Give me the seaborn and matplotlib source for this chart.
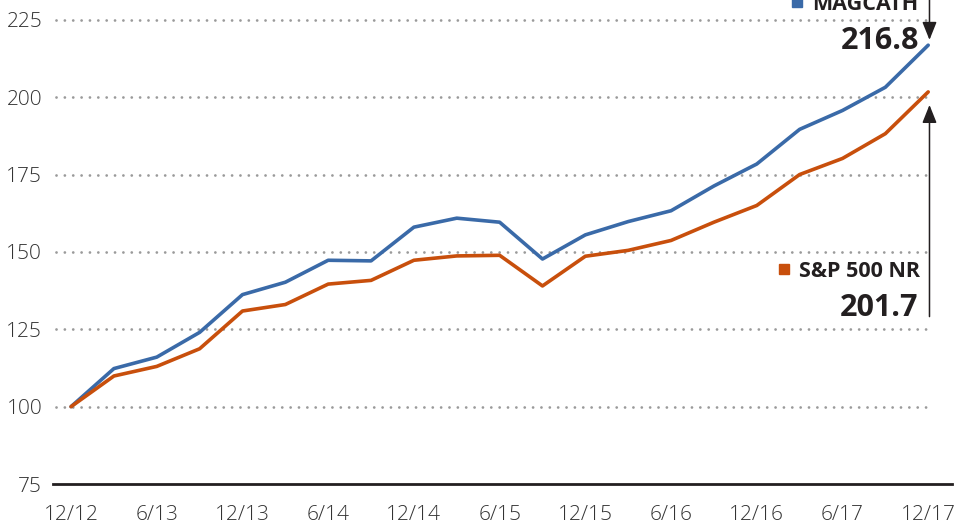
import matplotlib
matplotlib.use("Agg")
import matplotlib.pyplot as plt
import pandas as pd
import seaborn as sns

# quarterly index values, 12/12 = 100
quarters = list(range(21))
tick_pos = list(range(0, 21, 2))
tick_labels = ["12/12", "6/13", "12/13", "6/14", "12/14", "6/15",
               "12/15", "6/16", "12/16", "6/17", "12/17"]
magcath = [100, 112.3, 116.0, 124.0, 136.2, 140.2, 147.3, 147.1, 158.0, 160.9, 159.6,
           147.7, 155.5, 159.8, 163.3, 171.3, 178.4, 189.6, 195.7, 203.2, 216.8]
sp500 = [100, 109.9, 113.0, 118.7, 130.9, 133.0, 139.6, 140.8, 147.3, 148.7, 148.9,
         139.0, 148.6, 150.5, 153.7, 159.6, 165.0, 175.0, 180.2, 188.2, 201.7]
y_ticks = [75, 100, 125, 150, 175, 200, 225]

blue = "#3a6aa8"
orange = "#c84f0c"
ink = "#231f20"

df = pd.DataFrame({"q": quarters * 2,
                   "value": magcath + sp500,
                   "series": ["MAGCATH"] * 21 + ["S&P 500 NR"] * 21})

sns.set_theme(style="white")
plt.rcParams["font.family"] = ["Open Sans", "DejaVu Sans"]

fig = plt.figure(figsize=(9.58, 5.29), dpi=100)
ax = fig.add_axes([0.0557, 45 / 529, 0.9378, 1 - 45 / 529])

xmin, xmax = -0.413, 20.55
ax.hlines(y_ticks[1:], xmin + 0.05, 20, colors="#9a9a9a", linewidth=2.0,
          linestyles=[(0, (0.01, 3.0))], capstyle="round", zorder=1)

sns.lineplot(data=df, x="q", y="value", hue="series",
             palette={"MAGCATH": blue, "S&P 500 NR": orange},
             linewidth=2.6, legend=False, ax=ax, zorder=3)

ax.set_xlim(xmin, xmax)
ax.set_ylim(75, 231.4)
ax.set_xticks(tick_pos)
ax.set_xticklabels(tick_labels)
ax.set_yticks(y_ticks)
ax.set_xlabel("")
ax.set_ylabel("")
ax.tick_params(axis="both", length=0, labelsize=15, labelcolor="#333333")
ax.tick_params(axis="y", pad=8)
ax.tick_params(axis="x", pad=15)
for lab in ax.get_xticklabels() + ax.get_yticklabels():
    lab.set_fontweight("light")
for s in ["left", "top", "right"]:
    ax.spines[s].set_visible(False)
ax.spines["bottom"].set_color(ink)
ax.spines["bottom"].set_linewidth(2)

# arrows to the end values
arrow = dict(arrowstyle="-|>,head_length=0.55,head_width=0.22", color=ink,
             lw=1.1, shrinkA=0, shrinkB=0, mutation_scale=20)
ax.annotate("", xy=(20.03, 218.5), xytext=(20.03, 233), arrowprops=arrow,
            annotation_clip=False)
ax.annotate("", xy=(20.03, 197.5), xytext=(20.03, 129.1), arrowprops=arrow,
            annotation_clip=False)

# labels
ax.plot([16.94], [230.8], marker="s", ms=7.2, color=blue, clip_on=False, zorder=5)
ax.text(19.78, 228.2, "MAGCATH", ha="right", va="baseline", fontsize=15.5,
        fontweight="bold", color=ink)
ax.text(19.78, 215.5, "216.8", ha="right", va="baseline", fontsize=22,
        fontweight="bold", color=ink)
ax.plot([16.64], [144.5], marker="s", ms=7.2, color=orange, clip_on=False, zorder=5)
ax.text(19.80, 141.9, "S&P 500 NR", ha="right", va="baseline", fontsize=15.5,
        fontweight="bold", color=ink)
ax.text(19.76, 129.3, "201.7", ha="right", va="baseline", fontsize=22,
        fontweight="bold", color=ink)

fig.savefig("out.png", dpi=100)
